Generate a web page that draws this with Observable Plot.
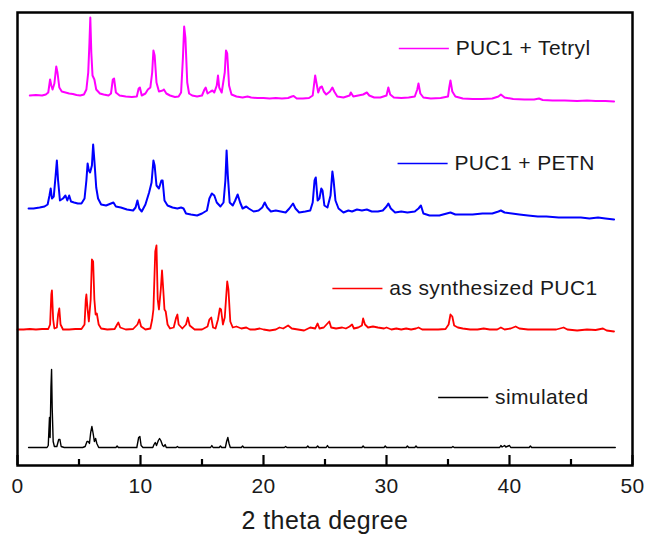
<!DOCTYPE html>
<html>
<head>
<meta charset="utf-8">
<script src="https://cdn.jsdelivr.net/npm/d3@7"></script>
<script src="https://cdn.jsdelivr.net/npm/@observablehq/plot@0.6"></script>
<style>
  html, body { margin: 0; padding: 0; background: #fff; }
  #chart svg text { letter-spacing: 0.4px; }
</style>
</head>
<body>
<div id="chart"></div>
<script>
// Powder XRD patterns, [2θ (deg), intensity above the pattern's own baseline (a.u.)]
const tetrylPattern = [
  [1.0, 2], [1.5, 2.5], [2.0, 2], [2.3, 3], [2.5, 5], [2.65, 18], [2.75, 12], [2.85, 8], [3.0, 14],
  [3.15, 31], [3.25, 25], [3.4, 10], [3.6, 6], [3.9, 5], [4.2, 4], [4.5, 3.5], [4.8, 2.5], [5.1, 2],
  [5.4, 3], [5.6, 8], [5.75, 25], [5.85, 55], [5.92, 80], [6.0, 45], [6.1, 22], [6.25, 18], [6.4, 8],
  [6.7, 4], [7.0, 3], [7.4, 2], [7.6, 4], [7.75, 18], [7.85, 19], [8.0, 5], [8.3, 2], [8.8, 1],
  [9.3, 0.5], [9.7, 1], [9.85, 9], [9.95, 10], [10.1, 2], [10.4, 4], [10.6, 8], [10.8, 10], [10.95, 25],
  [11.05, 47], [11.15, 42], [11.3, 15], [11.5, 6], [11.8, 7], [11.9, 8], [12.1, 4], [12.4, 2], [12.8, 0.5],
  [13.1, 1], [13.3, 5], [13.45, 40], [13.55, 71], [13.65, 60], [13.8, 15], [13.95, 4], [14.2, 2], [14.6, 1],
  [15.0, 2], [15.2, 8], [15.3, 10], [15.45, 4], [15.7, 6], [15.85, 7], [16.0, 5], [16.2, 12], [16.3, 22],
  [16.4, 10], [16.6, 5], [16.85, 25], [16.95, 47], [17.05, 44], [17.2, 12], [17.4, 3], [17.8, 1], [18.3, 0],
  [18.7, 1], [19.0, 0], [19.5, -0.5], [20.0, -0.5], [20.5, -1], [21.0, -0.5], [21.5, -1], [22.0, -0.5],
  [22.3, 1], [22.45, 1.5], [22.7, -1], [23.2, -1], [23.7, -0.5], [24.0, 2], [24.1, 12], [24.2, 22],
  [24.3, 15], [24.45, 5], [24.6, 10], [24.75, 11], [24.9, 6], [25.1, 3], [25.4, 6], [25.6, 10], [25.75, 6],
  [26.0, 1], [26.5, 0], [27.0, 2], [27.1, 5], [27.3, 1], [27.7, 2], [28.1, 3], [28.4, 5], [28.6, 2],
  [29.0, 0], [29.5, 0], [30.0, 2], [30.15, 10], [30.3, 3], [30.6, 0], [31.2, -0.5], [31.8, 0], [32.3, 1],
  [32.5, 8], [32.6, 14], [32.75, 4], [33.0, 0], [33.6, -1], [34.4, -0.5], [35.0, 1], [35.1, 10], [35.2, 17],
  [35.35, 6], [35.6, 1], [36.2, -1], [37.0, -1.5], [37.8, -1.5], [38.6, -1], [39.1, 1], [39.3, 3], [39.6, 0],
  [40.3, -1.5], [41.2, -2], [42.0, -2], [42.4, -1], [42.7, -2.5], [43.5, -3], [44.5, -3], [45.5, -3.5],
  [46.3, -3], [47.0, -3.5], [47.8, -3.5], [48.5, -4]
];

const petnPattern = [
  [0.9, 2], [1.3, 2], [1.8, 3], [2.2, 4], [2.45, 6], [2.6, 15], [2.7, 22], [2.8, 12], [2.95, 14],
  [3.1, 35], [3.2, 50], [3.3, 30], [3.45, 10], [3.7, 12], [3.9, 15], [4.05, 10], [4.2, 15], [4.35, 9],
  [4.6, 8], [4.9, 7], [5.2, 7], [5.45, 12], [5.6, 30], [5.7, 47], [5.8, 40], [5.9, 38], [6.05, 45],
  [6.15, 66], [6.25, 50], [6.4, 23], [6.55, 12], [6.8, 6], [7.2, 5], [7.6, 7], [7.8, 8], [8.0, 4],
  [8.4, 3], [8.9, 1], [9.4, 0], [9.6, 3], [9.75, 10], [9.9, 2], [10.1, -1], [10.4, 6], [10.7, 18],
  [10.9, 28], [11.05, 50], [11.15, 45], [11.3, 25], [11.5, 22], [11.7, 30], [11.8, 30], [11.95, 10],
  [12.2, 5], [12.6, 3], [13.0, 2], [13.3, 3], [13.5, 2], [13.7, -3], [14.1, -4], [14.6, -5], [15.0, -3],
  [15.4, 0], [15.6, 12], [15.8, 17], [16.0, 15], [16.2, 8], [16.5, 4], [16.75, 8], [16.9, 30], [17.0, 60],
  [17.1, 35], [17.25, 8], [17.5, 5], [17.7, 10], [17.9, 16], [18.1, 8], [18.3, 2], [18.6, 4], [18.8, 2],
  [19.2, -1], [19.6, 0], [19.9, 3], [20.1, 8], [20.3, 3], [20.6, -1], [21.0, 0], [21.4, -1], [21.8, -2],
  [22.1, 2], [22.4, 7], [22.6, 2], [22.9, -2], [23.4, -1], [23.8, 0], [24.0, 8], [24.15, 30], [24.25, 33],
  [24.4, 10], [24.55, 12], [24.7, 22], [24.8, 20], [24.95, 5], [25.2, 3], [25.45, 15], [25.6, 39],
  [25.7, 30], [25.85, 10], [26.1, 2], [26.5, -2], [26.9, 0], [27.2, -1], [27.6, 1], [28.0, 0], [28.4, 1],
  [28.8, -1], [29.3, -1], [29.7, 0], [30.0, 4], [30.15, 7], [30.35, 2], [30.7, -2], [31.2, -1], [31.7, -2],
  [32.3, -1], [32.6, 2], [32.8, 5], [33.0, -3], [33.5, -5], [34.3, -5], [34.9, -3], [35.2, -2], [35.6, -4],
  [36.3, -4], [37.0, -4], [37.8, -3], [38.6, -3], [39.1, -1], [39.3, 0], [39.6, -2], [40.2, -3], [40.8, -4],
  [41.5, -5], [42.3, -6], [43.0, -6], [44.0, -7], [45.0, -7], [45.8, -7], [46.5, -8], [47.2, -7],
  [47.8, -8], [48.5, -9]
];

const synthesizedPattern = [
  [0.0, 0], [0.5, 0], [1.0, 0.5], [1.5, 0], [2.0, 0.5], [2.5, 0.5], [2.65, 5], [2.75, 35], [2.8, 39],
  [2.9, 10], [3.0, 1], [3.2, 2], [3.3, 15], [3.4, 21], [3.5, 5], [3.7, 0], [4.2, 0], [4.7, 0.5], [5.2, 0.5],
  [5.45, 5], [5.55, 30], [5.6, 35], [5.7, 20], [5.8, 8], [5.95, 30], [6.05, 70], [6.15, 68], [6.25, 30],
  [6.35, 15], [6.45, 16], [6.6, 5], [6.8, 1], [7.3, 0], [7.9, 0.5], [8.1, 5], [8.2, 7], [8.35, 2], [8.8, 0],
  [9.4, 0.5], [9.75, 5], [9.9, 10], [10.05, 3], [10.4, 0], [10.8, 1], [10.95, 10], [11.05, 20], [11.2, 78],
  [11.3, 84], [11.4, 30], [11.5, 20], [11.65, 40], [11.75, 59], [11.85, 40], [11.95, 20], [12.05, 18],
  [12.2, 5], [12.4, 1], [12.7, 2], [12.9, 12], [13.0, 15], [13.1, 5], [13.4, 1], [13.7, 5], [13.85, 12],
  [14.0, 4], [14.4, 0], [15.0, 0], [15.45, 3], [15.6, 10], [15.75, 12], [15.9, 2], [16.1, 1], [16.3, 10],
  [16.45, 21], [16.55, 20], [16.7, 5], [16.85, 12], [16.95, 30], [17.05, 48], [17.15, 40], [17.3, 8],
  [17.5, 2], [17.8, 3], [18.2, 1], [18.6, 2], [18.9, 0], [19.3, 0], [19.7, 1], [20.0, 0], [20.5, -1],
  [21.0, 0], [21.3, 2], [21.6, 1], [22.0, 4], [22.3, 1], [22.8, 0], [23.3, -1], [23.8, 2], [24.2, 1],
  [24.4, 6], [24.55, 1], [24.9, 2], [25.2, 6], [25.35, 8], [25.5, 2], [25.9, 1], [26.4, 2], [26.7, 1],
  [27.0, 3], [27.2, 5], [27.35, 1], [27.7, 2], [28.0, 4], [28.1, 11], [28.25, 5], [28.5, 2], [28.9, 3],
  [29.3, 2], [29.8, 1], [30.0, 2], [30.4, 0], [30.8, 1], [31.2, 0], [31.6, 1], [32.0, 0], [32.4, 1],
  [32.6, 2], [32.9, 0], [33.5, 0], [34.2, 0], [34.8, 0.5], [35.05, 5], [35.2, 15], [35.35, 13], [35.5, 4],
  [35.8, 2], [36.2, 1], [36.8, 0], [37.4, 0], [37.9, 1], [38.4, 0], [39.0, 0], [39.3, 2], [39.6, 0],
  [40.1, 1], [40.5, 3], [40.8, 1], [41.5, 0], [42.2, 0], [43.0, 0], [43.8, 0], [44.4, 2], [44.7, 0],
  [45.5, -1], [46.3, 0], [47.0, -0.5], [47.6, 1], [47.9, -1], [48.5, -2]
];

const simulatedPattern = [
  [0.9, 0], [2.4, 0], [2.5, 2], [2.6, 30], [2.65, 10], [2.72, 60], [2.77, 78], [2.82, 40], [2.9, 6],
  [3.0, 1], [3.2, 1], [3.35, 8], [3.45, 8], [3.55, 1], [3.8, 0], [5.3, 0], [5.5, 1], [5.65, 6], [5.75, 6],
  [5.85, 4], [5.95, 15], [6.05, 21], [6.15, 14], [6.25, 6], [6.35, 9], [6.45, 4], [6.6, 0], [8.0, 0],
  [8.1, 1.5], [8.2, 0], [9.7, 0], [9.85, 10], [9.95, 11], [10.05, 2], [10.2, 0], [11.0, 0], [11.1, 3],
  [11.2, 5], [11.3, 2], [11.45, 7], [11.55, 9], [11.65, 7], [11.8, 2], [11.9, 1], [12.0, 3], [12.1, 0],
  [12.9, 0], [13.0, 1], [13.1, 0], [15.7, 0], [15.8, 2], [15.9, 0], [16.4, 0], [16.5, 1.5], [16.6, 0],
  [16.9, 0], [17.0, 6], [17.1, 10], [17.2, 4], [17.3, 0], [18.2, 0], [18.3, 1.5], [18.4, 0], [21.7, 0],
  [21.8, 1], [21.9, 0], [23.5, 0], [23.6, 1.5], [23.7, 0], [24.3, 0], [24.4, 1.5], [24.5, 0], [25.1, 0],
  [25.2, 2], [25.3, 0], [28.0, 0], [28.1, 1.5], [28.2, 0], [29.8, 0], [29.9, 1.5], [30.0, 0], [31.6, 0],
  [31.7, 1.5], [31.8, 0], [32.3, 0], [32.4, 1.5], [32.5, 0], [35.3, 0], [35.4, 1], [35.5, 0], [39.2, 0],
  [39.3, 2], [39.4, 0.5], [39.6, 2], [39.7, 0.5], [40.0, 2], [40.1, 0], [41.6, 0], [41.7, 1.5], [41.8, 0],
  [48.6, 0]
];

const seriesNames = ["PUC1 + Tetryl", "PUC1 + PETN", "as synthesized PUC1", "simulated"];
const majorTicks = [0, 10, 20, 30, 40, 50];
const minorTicks = [5, 15, 25, 35, 45];

// Stacking: each pattern is lifted by its own vertical offset (a.u.)
const series = [
  {name: seriesNames[0], data: tetrylPattern,      offset: 368, color: "#ff00ff", width: 2,   legend: {x: 31.0, y: 417}},
  {name: seriesNames[1], data: petnPattern,        offset: 255, color: "#0000ff", width: 2,   legend: {x: 30.9, y: 302}},
  {name: seriesNames[2], data: synthesizedPattern, offset: 136, color: "#ff0000", width: 1.8, legend: {x: 25.6, y: 177}},
  {name: seriesNames[3], data: simulatedPattern,   offset: 18,  color: "#000000", width: 1.4, legend: {x: 34.2, y: 68}}
];

const legendLine = 4.07;   // legend swatch length in 2θ units
const legendGap = 0.55;

const rows = series.flatMap(s => s.data.map(([t, v]) => ({name: s.name, theta: t, I: v + s.offset})));
const legendRows = series.map(s => ({
  name: s.name, color: s.color,
  x1: s.legend.x, x2: s.legend.x + legendLine, tx: s.legend.x + legendLine + legendGap, y: s.legend.y
}));

const chart = Plot.plot({
  width: 646,
  height: 539,
  marginLeft: 17,
  marginRight: 14,
  marginTop: 12,
  marginBottom: 74,
  style: {fontFamily: "'Liberation Sans', Arial, sans-serif", color: "#1a1a1a", background: "#fff"},
  x: {domain: [0, 50], axis: null},
  y: {domain: [0, 453], axis: null},
  marks: [
    ...series.map(s => Plot.line(rows.filter(r => r.name === s.name), {
      x: "theta", y: "I", stroke: s.color, strokeWidth: s.width, strokeLinejoin: "round"
    })),
    Plot.link(legendRows, {x1: "x1", x2: "x2", y1: "y", y2: "y", stroke: "color", strokeWidth: 1.6}),
    Plot.text(legendRows, {x: "tx", y: "y", text: "name", textAnchor: "start", lineAnchor: "middle", fontSize: 21, fill: "#1a1a1a"}),
    Plot.tickX(majorTicks, {x: d => d, insetTop: 443, stroke: "black", strokeWidth: 2.2}),
    Plot.tickX(minorTicks, {x: d => d, insetTop: 447, stroke: "black", strokeWidth: 2.2}),
    Plot.frame({stroke: "black", strokeWidth: 2.5}),
    Plot.text(majorTicks, {x: d => d, frameAnchor: "bottom", lineAnchor: "top", dy: 13, fontSize: 21, fill: "#1a1a1a"}),
    Plot.text(["2 theta degree"], {frameAnchor: "bottom", lineAnchor: "bottom", dy: 63, fontSize: 25, fill: "#1a1a1a"})
  ]
});

document.getElementById("chart").append(chart);
</script>
</body>
</html>
